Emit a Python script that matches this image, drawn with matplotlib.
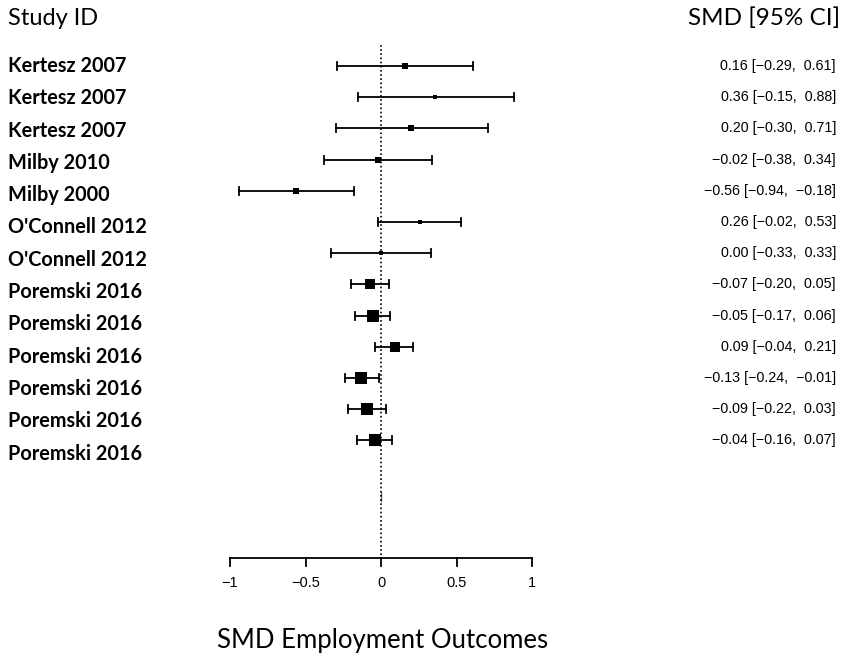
import matplotlib.pyplot as plt

studies = [
    "Kertesz 2007", "Kertesz 2007", "Kertesz 2007", "Milby 2010", "Milby 2000",
    "O'Connell 2012", "O'Connell 2012", "Poremski 2016", "Poremski 2016",
    "Poremski 2016", "Poremski 2016", "Poremski 2016", "Poremski 2016",
]
smd = [0.16, 0.36, 0.20, -0.02, -0.56, 0.26, 0.00, -0.07, -0.05, 0.09, -0.13, -0.09, -0.04]
ci_low = [-0.29, -0.15, -0.30, -0.38, -0.94, -0.02, -0.33, -0.20, -0.17, -0.04, -0.24, -0.22, -0.16]
ci_high = [0.61, 0.88, 0.71, 0.34, -0.18, 0.53, 0.33, 0.05, 0.06, 0.21, -0.01, 0.03, 0.07]
# relative study weights, used for the size of the squares
weights = [3.8, 3.0, 4.2, 3.8, 3.8, 3.2, 3.2, 7.4, 8.4, 7.6, 8.6, 8.0, 8.6]
xticks = [-1, -0.5, 0, 0.5, 1]


def fmt(v):
    return f"{v:.2f}".replace("-", "\u2212")


fig = plt.figure(figsize=(8.42, 6.61), dpi=100)
ax = fig.add_axes([0, 0, 1, 1])
# x: 151 px per unit with zero at 381 px; y: one unit per row (31.2 px)
ax.set_xlim(-381 / 151, 461 / 151)
ax.set_ylim((661 - 66) / 31.2, -66 / 31.2)
ax.axis("off")

rows = list(range(len(studies)))
axis_y = (558 - 66) / 31.2
left_x = -373 / 151
right_x = 455 / 151

ax.plot([0, 0], [-0.67, axis_y], color="black", lw=1.2, ls=(0, (1, 1.5)))

for i in rows:
    ax.plot([ci_low[i], ci_high[i]], [i, i], color="black", lw=1.3)
    for end in (ci_low[i], ci_high[i]):
        ax.plot([end, end], [i - 0.13, i + 0.13], color="black", lw=1.3)
    ax.plot(smd[i], i, marker="s", color="black", ms=weights[i], mew=0)
    ax.text(right_x, i,
            f"{fmt(smd[i])} [{fmt(ci_low[i])},  {fmt(ci_high[i])}]",
            ha="right", va="center", fontsize=10.3, family="Liberation Sans")
    ax.text(left_x, i * 1.035, studies[i], ha="left", va="center",
            fontsize=14.3, fontweight="bold", family="Lato")

# small stub for the summary row
ax.plot([0, 0], [13.65, 13.95], color="black", lw=1.0, alpha=0.6)

# x axis
ax.plot([xticks[0], xticks[-1]], [axis_y, axis_y], color="black", lw=1.3)
for t in xticks:
    ax.plot([t, t], [axis_y, axis_y + 0.26], color="black", lw=1.3)
    ax.text(t, axis_y + 0.8, f"{t:g}".replace("-", "\u2212"), ha="center",
            va="center", fontsize=10.5, family="Liberation Sans")

ax.text(left_x, -48 / 31.2, "Study ID", ha="left", va="center",
        fontsize=17, family="Lato")
ax.text(459 / 151, -48 / 31.2, "SMD [95% CI]", ha="right", va="center",
        fontsize=17.5, family="Lato")
ax.text(-164 / 151, (640 - 66) / 31.2, "SMD Employment Outcomes", ha="left",
        va="center", fontsize=18.5, family="Lato")

fig.savefig("out.png", dpi=100)
